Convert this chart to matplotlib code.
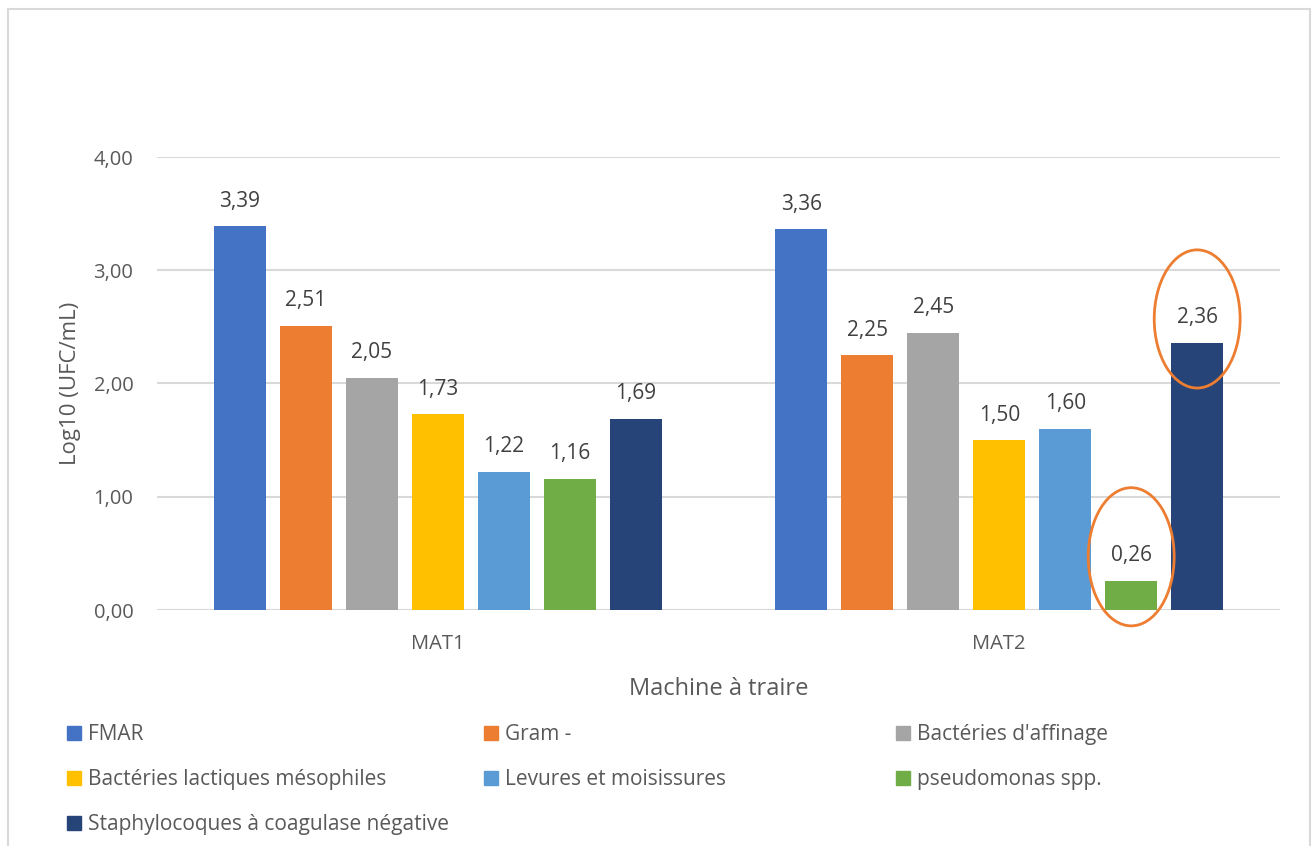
import matplotlib.pyplot as plt
import numpy as np
from matplotlib.patches import Ellipse, Rectangle, Patch

# Data
machines = ['MAT1', 'MAT2']
series = ['FMAR', 'Gram -', "Bactéries d'affinage",
          'Bactéries lactiques mésophiles', 'Levures et moisissures',
          'pseudomonas spp.', 'Staphylocoques à coagulase négative']
mat1 = [3.39, 2.51, 2.05, 1.73, 1.22, 1.16, 1.69]
mat2 = [3.36, 2.25, 2.45, 1.50, 1.60, 0.26, 2.36]

colors = ['#4472C4', '#ED7D31', '#A5A5A5', '#FFC000', '#5B9BD5', '#70AD47', '#264478']
text_color = '#595959'
grid_color = '#D9D9D9'

plt.rcParams['font.family'] = ['Open Sans', 'DejaVu Sans']

W, H = 1312, 846
fig = plt.figure(figsize=(W / 100, H / 100), dpi=100)
ax = fig.add_axes([157 / W, 1 - 610 / H, 1123 / W, 453 / H])

# chart frame
fig.patches.append(Rectangle((8 / W, -0.1), 1302 / W, 1.1 - 9 / H,
                             transform=fig.transFigure, fill=False,
                             edgecolor=grid_color, linewidth=1.5))

x = np.arange(len(machines))
step = 0.1175
width = 0.0926
values = np.array([mat1, mat2])

for i, name in enumerate(series):
    pos = x + (i - 3) * step
    ax.bar(pos, values[:, i], width=width, color=colors[i], label=name, zorder=3)
    for xp, v in zip(pos, values[:, i]):
        ax.annotate(f'{v:.2f}'.replace('.', ','), (xp, v), xytext=(0, 18),
                    textcoords='offset points', ha='center', va='center',
                    fontsize=15, color='#404040')

# highlight circles around MAT2 pseudomonas and staphylocoques
for i in (5, 6):
    xp = x[1] + (i - 3) * step
    v = values[1, i]
    ax.add_patch(Ellipse((xp, v + 0.21), 0.153, 1.22, fill=False,
                         edgecolor='#ED7D31', linewidth=2, clip_on=False, zorder=4))

ax.set_xlim(-0.5, 1.5)
ax.set_ylim(0, 4)
ax.set_yticks([0, 1, 2, 3, 4])
ax.set_yticklabels([f'{t:.2f}'.replace('.', ',') for t in [0, 1, 2, 3, 4]])
ax.set_xticks(x)
ax.set_xticklabels(machines)
ax.tick_params(length=0, labelsize=14.5, colors=text_color)
ax.tick_params(axis='x', pad=17)
ax.tick_params(axis='y', pad=17)
ax.grid(axis='y', color=grid_color, linewidth=1.5, zorder=0)
for s in ax.spines.values():
    s.set_visible(False)

ax.set_xlabel('Machine à traire', fontsize=17, color=text_color, labelpad=17)
ax.set_ylabel('Log10 (UFC/mL)', fontsize=16, color=text_color, labelpad=9)

# legend laid out row by row in three fixed columns
col_x = [59, 476, 888]
row_y = [716, 761, 806]
for k, name in enumerate(series):
    r, c = divmod(k, 3)
    leg = fig.legend(handles=[Patch(color=colors[k], label=name)],
                     loc='upper left', bbox_to_anchor=(col_x[c] / W, 1 - row_y[r] / H),
                     frameon=False, fontsize=15, handlelength=0.65, handleheight=0.65,
                     handletextpad=0.35, borderaxespad=0)
    for t in leg.get_texts():
        t.set_color(text_color)

fig.savefig('out.png', dpi=100)
